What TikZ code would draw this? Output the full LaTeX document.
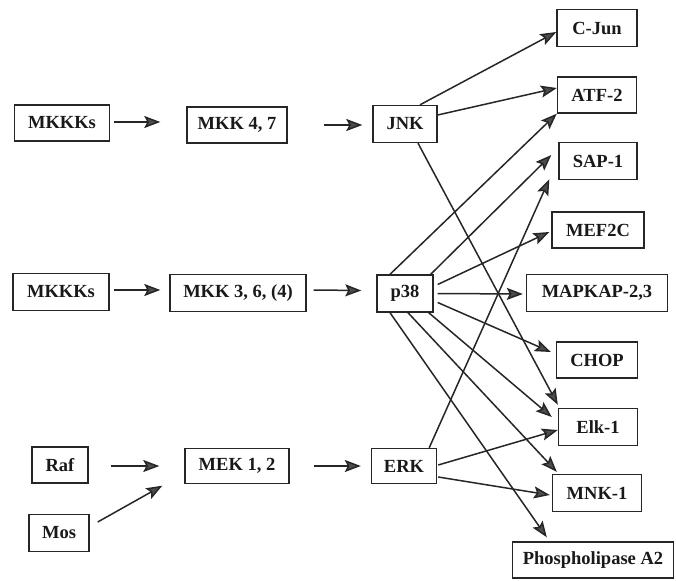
\documentclass[tikz,border=0pt]{standalone}
\usepackage{fontspec}
\setmainfont{Liberation Serif}
\usetikzlibrary{arrows.meta,calc}
\begin{document}
\begin{tikzpicture}[x=1pt,y=-1pt,
  box/.style={draw=black!85,line width=1.4pt,inner sep=0pt,font=\fontsize{18.5}{21}\selectfont\bfseries,text=black!90},
  arr/.style={line width=1.5pt,draw=black!85,-{Stealth[length=16pt,width=12pt,inset=3pt,fill=black!70]}}]
\useasboundingbox (0,0) rectangle (676,580);
% left and middle columns
\node[box,minimum width=95pt,minimum height=36pt] (mkkk1) at (62,123) {MKKKs};
\node[box,minimum width=100pt,minimum height=36pt] (mkk47) at (237,125) {MKK 4, 7};
\node[box,minimum width=64pt,minimum height=37pt] (jnk) at (405,124) {JNK};
\node[box,minimum width=96pt,minimum height=37pt] (mkkk2) at (61,292) {MKKKs};
\node[box,minimum width=136pt,minimum height=37pt] (mkk36) at (238,293) {MKK 3, 6, (4)};
\node[box,minimum width=56pt,minimum height=37pt] (p38) at (405,293.5) {p38};
\node[box,minimum width=56pt,minimum height=36pt] (raf) at (60,465) {Raf};
\node[box,minimum width=60pt,minimum height=37pt] (mos) at (59,533) {Mos};
\node[box,minimum width=104pt,minimum height=35pt] (mek) at (237,466) {MEK 1, 2};
\node[box,minimum width=65pt,minimum height=35pt] (erk) at (404,466) {ERK};
% right column
\node[box,minimum width=80pt,minimum height=37pt] (cjun) at (597,28) {C-Jun};
\node[box,minimum width=79pt,minimum height=36pt] (atf) at (597,95) {ATF-2};
\node[box,minimum width=78pt,minimum height=37pt] (sap) at (598,161) {SAP-1};
\node[box,minimum width=92pt,minimum height=36pt] (mef) at (598,230) {MEF2C};
\node[box,minimum width=141pt,minimum height=37pt] (mapkap) at (597,293) {MAPKAP-2,3};
\node[box,minimum width=81pt,minimum height=36pt] (chop) at (597,360) {CHOP};
\node[box,minimum width=79pt,minimum height=37pt] (elk) at (598,427) {Elk-1};
\node[box,minimum width=89pt,minimum height=37pt] (mnk) at (597,493) {MNK-1};
\node[box,minimum width=161pt,minimum height=36pt] (pla) at (593,560) {Phospholipase A2};
% left arrows
\draw[arr] ($(mkkk1.east)+(4,-1)$) -- ($(mkk47.west)+(-26,-3)$);
\draw[arr] ($(mkk47.east)+(36,0)$) -- ($(jnk.west)+(-10,1)$);
\draw[arr] ($(mkkk2.east)+(4,-2)$) -- ($(mkk36.west)+(-9,-3)$);
\draw[arr] ($(mkk36.east)+(7,-3)$) -- ($(p38.west)+(-15,-3)$);
\draw[arr] ($(raf.east)+(22,1)$) -- ($(mek.west)+(-25,0)$);
\draw[arr] ($(mos.east)+(8,-11)$) -- ($(mek.south west)+(-22,1.5)$);
\draw[arr] ($(mek.east)+(24,0)$) -- ($(erk.west)+(-10,0)$);
% JNK targets
\draw[arr] ($(jnk.north)+(15,0)$) -- ($(cjun.west)+(0,4)$);
\draw[arr] ($(jnk.east)+(0,-9)$) -- ($(atf.west)+(0,-7)$);
\draw[arr] ($(jnk.south)+(13,0)$) -- ($(elk.north west)+(0,-3)$);
% p38 targets
\draw[arr] ($(p38.north)+(-15,0)$) -- ($(atf.south west)+(0,0)$);
\draw[arr] ($(p38.north east)+(-3,0)$) -- ($(sap.west)+(-7,-6)$);
\draw[arr] ($(p38.east)+(4,-9)$) -- ($(mef.west)+(-2,2)$);
\draw[arr] ($(p38.east)+(4,0)$) -- ($(mapkap.west)+(-3,1)$);
\draw[arr] ($(p38.east)+(4,9)$) -- ($(chop.west)+(-5,-8)$);
\draw[arr] ($(p38.south east)+(-5,0)$) -- ($(elk.west)+(-6,-10)$);
\draw[arr] ($(p38.south)+(3,0)$) -- ($(mnk.north west)+(5,-2)$);
\draw[arr] ($(p38.south)+(-15,0)$) -- ($(pla.north west)+(35,-4)$);
% ERK targets
\draw[arr] ($(erk.north east)+(-8,0)$) -- ($(sap.south west)+(-9,-1)$);
\draw[arr] ($(erk.east)+(1,-1)$) -- ($(elk.west)+(0,3)$);
\draw[arr] ($(erk.east)+(1,11)$) -- ($(mnk.west)+(-2,2)$);
\end{tikzpicture}
\end{document}
